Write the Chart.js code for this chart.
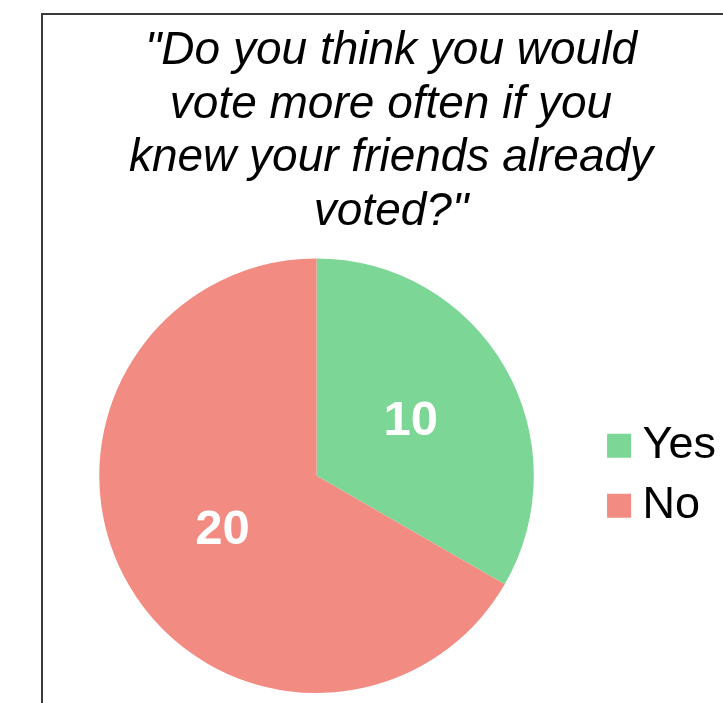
<!DOCTYPE html>
<html>
<head>
<meta charset="utf-8">
<script src="https://cdn.jsdelivr.net/npm/chart.js@4"></script>
<style>
  html, body { margin: 0; padding: 0; background: #fff; overflow: hidden; }
  body { width: 723px; height: 703px; position: relative; }
  .frame {
    position: absolute; left: 41px; top: 13px;
    width: 720px; height: 720px;
    border: 2px solid #3a3a3a; box-sizing: border-box;
  }
  .wrap { position: absolute; left: 30px; top: 13px; width: 722px; height: 690px; }
</style>
</head>
<body>
<div class="frame"></div>
<div class="wrap"><canvas id="voteChart" width="722" height="690"></canvas></div>
<script>
const titleLines = ['"Do you think you would', "vote more often if you", "knew your friends already", 'voted?"'];
const answers = ["Yes", "No"];
const counts = [10, 20];
const sliceColors = ["#7cd695", "#f28c83"];

// writes the count in the middle of each slice
const sliceLabels = {
  id: "sliceLabels",
  afterDatasetsDraw(chart) {
    const ctx = chart.ctx;
    const meta = chart.getDatasetMeta(0);
    ctx.save();
    ctx.fillStyle = "#ffffff";
    ctx.font = "bold 49px 'Liberation Sans', Arial, sans-serif";
    ctx.textAlign = "center";
    ctx.textBaseline = "middle";
    meta.data.forEach((arc, i) => {
      const pos = arc.tooltipPosition();
      ctx.fillText(String(counts[i]), pos.x, pos.y);
    });
    ctx.restore();
  }
};

// title is centred on the whole canvas, not only inside the layout padding
const wideTitle = {
  id: "wideTitle",
  afterLayout(chart) {
    if (chart.titleBlock) {
      chart.titleBlock.left = 0;
      chart.titleBlock.right = chart.width;
    }
  }
};

new Chart(document.getElementById("voteChart"), {
  type: "pie",
  data: {
    labels: answers,
    datasets: [{
      data: counts,
      backgroundColor: sliceColors,
      borderWidth: 0
    }]
  },
  options: {
    responsive: false,
    animation: false,
    layout: { padding: { left: 0, bottom: 10, right: 26, top: 0 } },
    plugins: {
      tooltip: { enabled: false },
      title: {
        display: true,
        text: titleLines,
        color: "#000",
        font: { family: "'Liberation Sans', Arial, sans-serif", size: 46, style: "italic", weight: "normal", lineHeight: 1.16 },
        padding: { top: 12, bottom: 20 }
      },
      legend: {
        position: "right",
        fullSize: false,
        labels: {
          color: "#000",
          // narrow box width keeps the text close to the square, like the original
          usePointStyle: true,
          pointStyle: "rect",
          boxWidth: 2,
          boxHeight: 24,
          padding: 15,
          font: { family: "'Liberation Sans', Arial, sans-serif", size: 45 }
        }
      }
    }
  },
  plugins: [sliceLabels, wideTitle]
});
</script>
</body>
</html>
